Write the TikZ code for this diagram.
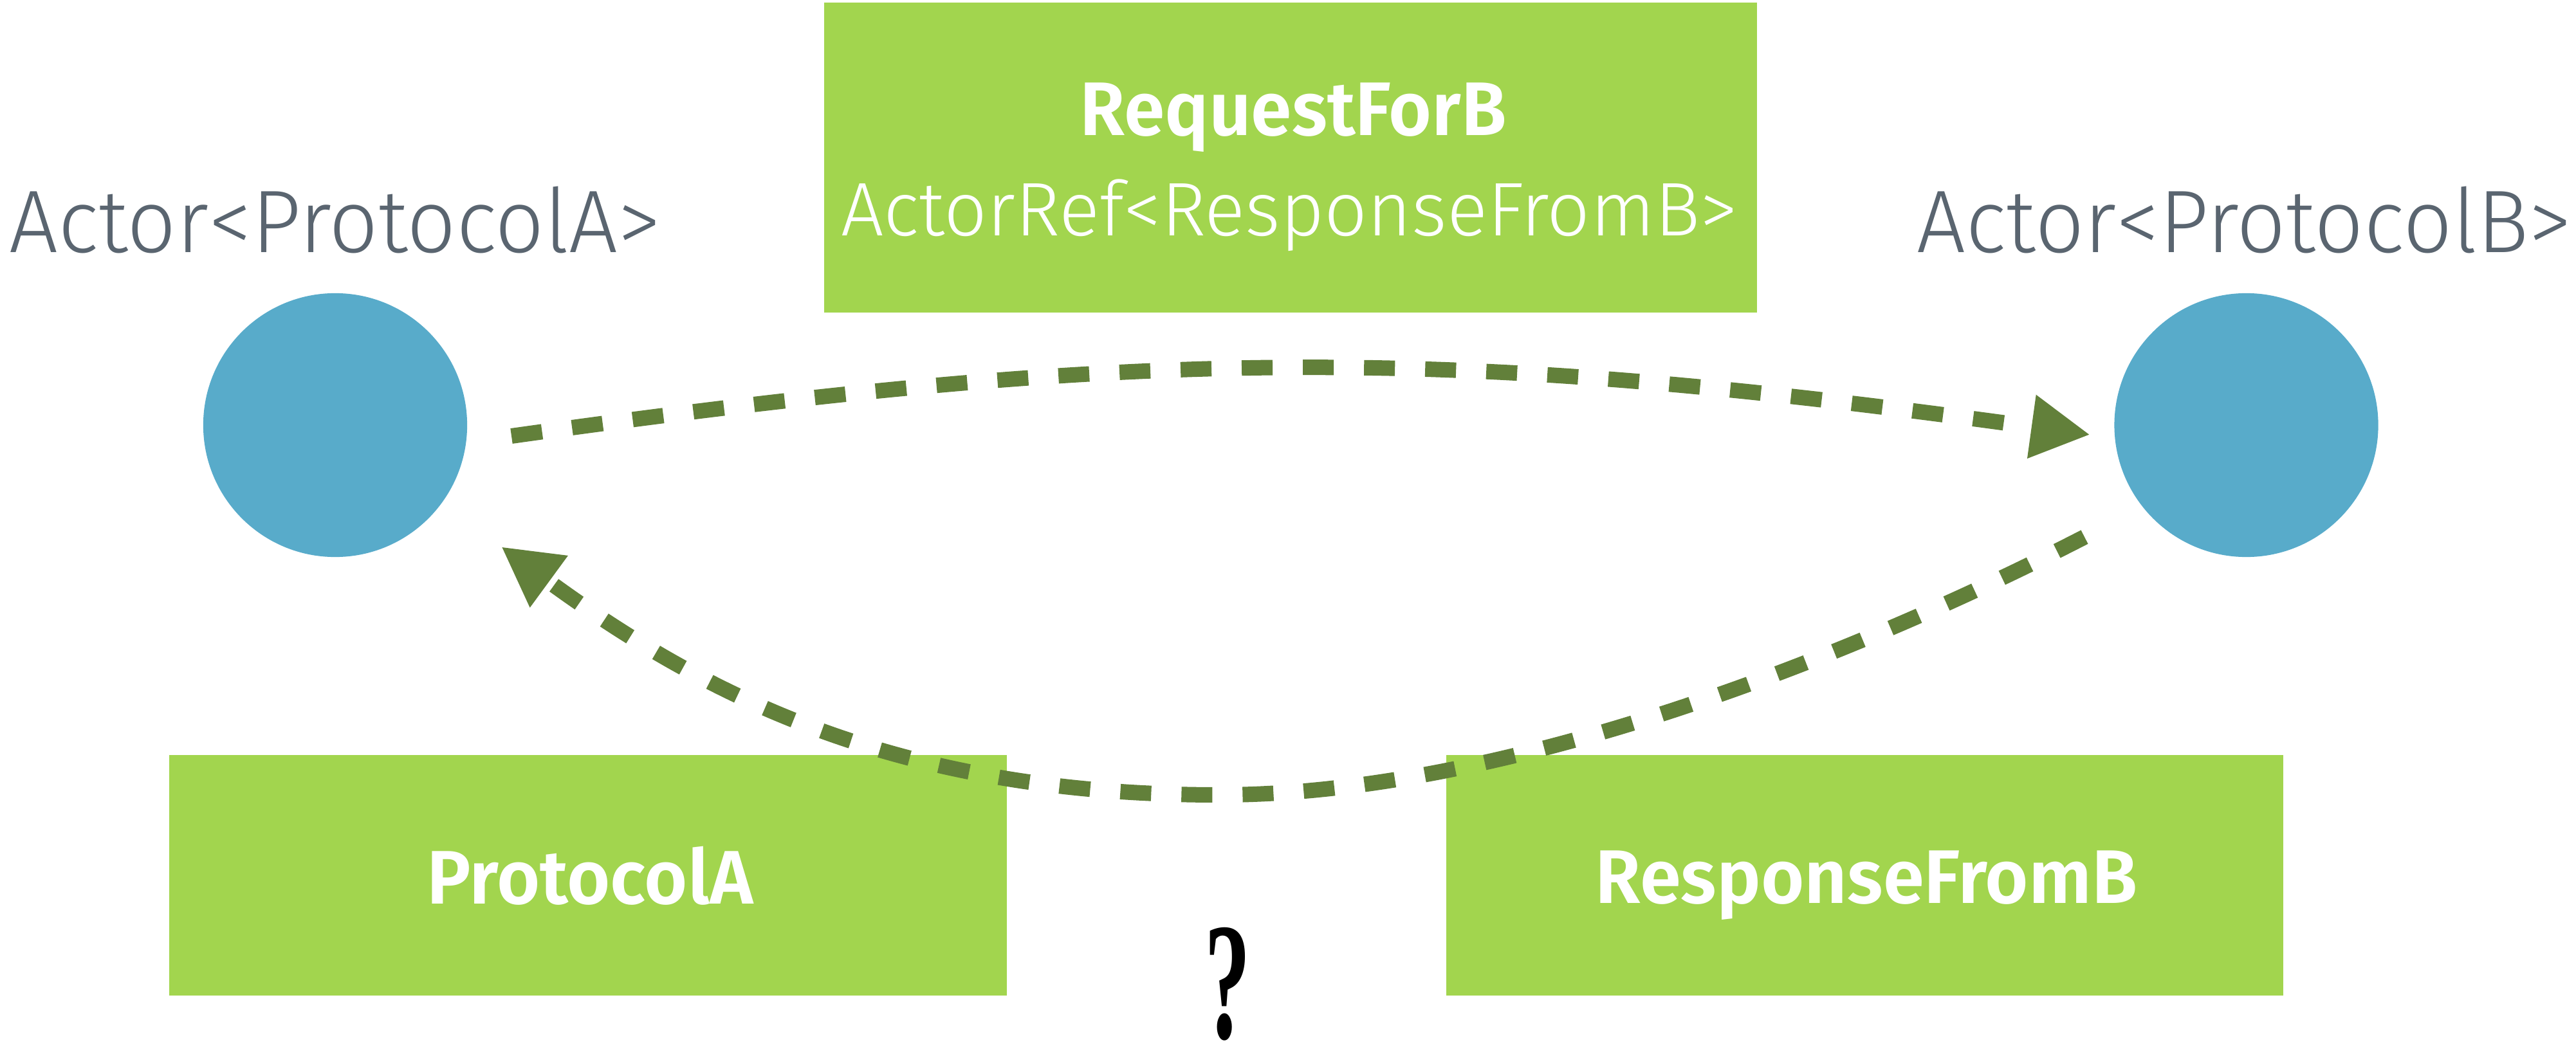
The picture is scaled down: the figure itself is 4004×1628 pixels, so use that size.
\documentclass[tikz,border=0pt]{standalone}
\usepackage{fontspec}
\usepackage{graphicx}
\usetikzlibrary{arrows.meta,calc}
\setmainfont{Liberation Serif}
% light and semibold cuts of the label face, with the plain cut as fallback
\IfFontExistsTF{Fira Sans Light}
  {\newfontfamily\lightsans{Fira Sans Light}}
  {\newfontfamily\lightsans{Fira Sans}}
\IfFontExistsTF{Fira Sans SemiBold}
  {\newfontfamily\semisans{Fira Sans SemiBold}}
  {\newfontfamily\semisans{Fira Sans}[UprightFont=*, BoldFont=*]\let\semiweight\bfseries}
\providecommand{\semiweight}{}

\definecolor{boxgreen}{HTML}{A2D54E}
\definecolor{linkgreen}{HTML}{62803A}
\definecolor{actorblue}{HTML}{58ABCA}
\definecolor{labelgray}{HTML}{5A6570}

% stretch a text to a given width, keeping its height
\newcommand{\fitto}[2]{\resizebox{#1}{\height}{#2}}

\tikzset{
  actor/.style={circle, fill=actorblue, draw=none, minimum size=4.1cm, inner sep=0pt},
  msgbox/.style={rectangle, fill=boxgreen, draw=none, inner sep=0pt},
  actorlabel/.style={text=labelgray, inner sep=0pt, font=\lightsans\fontsize{1.38cm}{1.6cm}\selectfont},
  boldlabel/.style={text=white, inner sep=0pt, anchor=base, font=\semisans\semiweight\fontsize{1.18cm}{1.4cm}\selectfont},
  lightlabel/.style={text=white, inner sep=0pt, anchor=base, font=\lightsans\fontsize{1.18cm}{1.4cm}\selectfont},
  msg/.style={draw=linkgreen, line width=0.24cm, dash pattern=on 0.48cm off 0.47cm,
    -{Triangle[length=0.92cm, width=0.93cm]}},
}

\begin{document}
\begin{tikzpicture}[x=0.01cm, y=-0.01cm]
\useasboundingbox (0,0) rectangle (4004,1628);

% message boxes
\node[msgbox, minimum width=14.5cm, minimum height=4.82cm] (req) at (2006,245) {};
\node[msgbox, minimum width=13.02cm, minimum height=3.74cm] (pa) at (914,1361) {};
\node[msgbox, minimum width=13.01cm, minimum height=3.74cm] (rb) at (2898.5,1361) {};

\node[boldlabel] (reqtitle) at (2010,211) {\fitto{6.63cm}{RequestForB}};
\node[lightlabel] (reqref) at (2004,367) {\fitto{13.93cm}{ActorRef<ResponseFromB>}};
\node[boldlabel] (patext) at (917,1405) {\fitto{5.07cm}{ProtocolA}};
\node[boldlabel] (rbtext) at (2901,1404) {\fitto{8.42cm}{ResponseFromB}};

% actors
\node[actor] (actA) at (521,661) {};
\node[actor] (actB) at (3491.5,661) {};
\node[actorlabel, anchor=base west] (labA) at (14,393) {\fitto{10.12cm}{Actor<ProtocolA>}};
\node[actorlabel, anchor=base east] (labB) at (3998,393) {\fitto{10.17cm}{Actor<ProtocolB>}};

% open question
\node[inner sep=0pt, anchor=base, font=\bfseries\fontsize{2.6cm}{2.8cm}\selectfont] (qm) at (1908,1614) {\scalebox{0.55}[1]{?}};

% connector end points
\coordinate (aout) at ($(actA)+(274,17)$);
\coordinate (bin) at ($(actB)+(-242.5,15)$);
\coordinate (bout) at ($(actB)+(-251.5,174)$);
\coordinate (ain) at ($(actA)+(258,189)$);
\coordinate (low) at (1894,1236);

% request A -> B
\draw[msg] (aout) .. controls (1791,538) and (2253,538) .. (bin);
% reply B -> A
\draw[msg] (bout) .. controls (2900,1010) and (2350,1236) .. (low)
  .. controls (1400,1236) and (1100,1085) .. (ain);
\end{tikzpicture}
\end{document}
